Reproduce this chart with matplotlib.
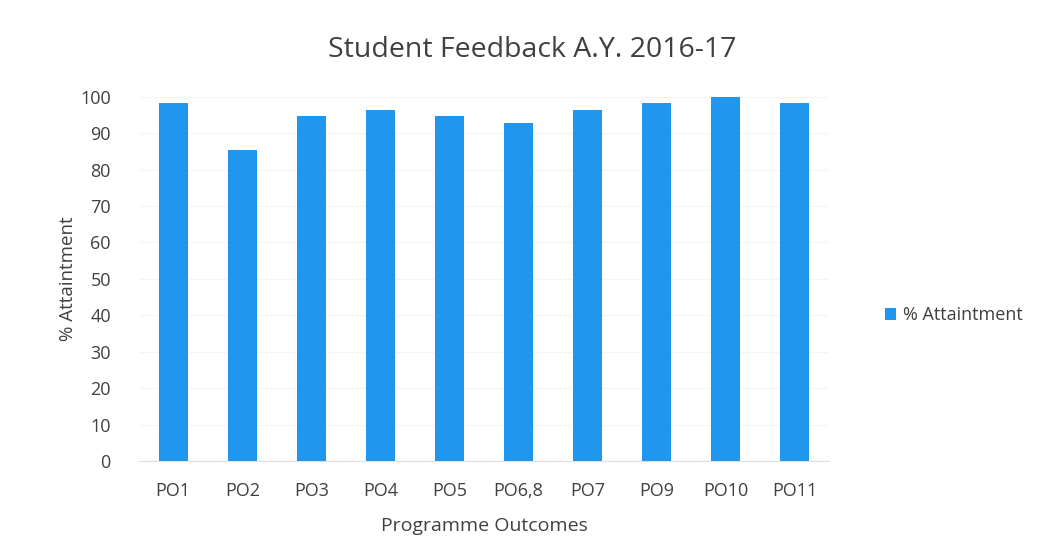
import matplotlib
matplotlib.use("Agg")
import matplotlib.pyplot as plt
from matplotlib.patches import Patch

categories = ["PO1", "PO2", "PO3", "PO4", "PO5", "PO6,8", "PO7", "PO9", "PO10", "PO11"]
attainment = [98.3, 85.3, 94.6, 96.3, 94.6, 92.7, 96.3, 98.3, 100.0, 98.3]
yticks = [0, 10, 20, 30, 40, 50, 60, 70, 80, 90, 100]

bar_color = "#2196ee"
text_color = "#404040"

plt.rcParams["font.family"] = ["Open Sans", "DejaVu Sans"]

fig = plt.figure(figsize=(10.44, 5.58), dpi=100)
ax = fig.add_axes([0.1328, 0.1738, 0.6617, 0.653])

x = range(len(categories))
ax.bar(x, attainment, width=0.42, color=bar_color, zorder=3)

ax.set_xlim(-0.5, len(categories) - 0.5)
ax.set_ylim(0, 100)
ax.set_yticks(yticks)
ax.set_xticks(list(x))
ax.set_xticklabels(categories)
ax.tick_params(axis="both", length=0, labelsize=13, labelcolor=text_color)
ax.tick_params(axis="y", pad=20)
ax.tick_params(axis="x", pad=15)

for s in ["top", "right", "left"]:
    ax.spines[s].set_visible(False)
ax.spines["bottom"].set_color("#e0e0e0")
ax.yaxis.grid(True, color="#f4f4f4", linewidth=0.8, zorder=0)

ax.set_xlabel("Programme Outcomes", fontsize=14, color=text_color, labelpad=12)
ax.set_ylabel("% Attaintment", fontsize=13.5, color=text_color, labelpad=2)

fig.text(0.510, 0.910, "Student Feedback A.Y. 2016-17", ha="center", va="center",
         fontsize=20.5, color=text_color)

handles = [Patch(facecolor=bar_color, edgecolor="none", label="% Attaintment")]
fig.legend(handles=handles, loc="center left", bbox_to_anchor=(0.832, 0.435),
           frameon=False, fontsize=13, handlelength=0.6, handleheight=0.6,
           handletextpad=0.4, labelcolor=text_color)

fig.savefig("out.png", dpi=100, facecolor="white")
